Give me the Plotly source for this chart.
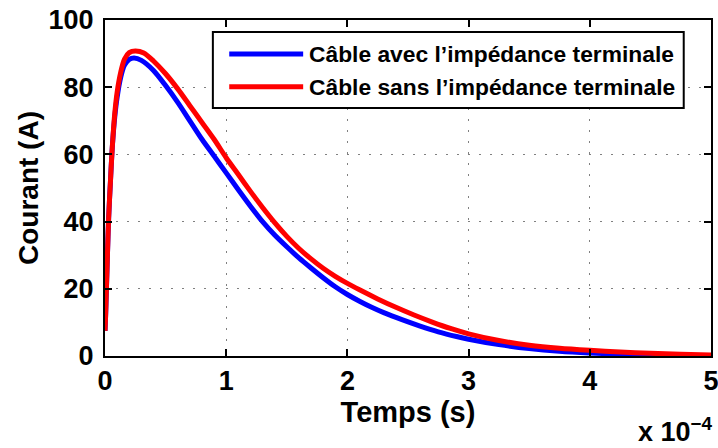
import plotly.graph_objects as go

# Time in units of 1e-4 s (axis shows "x 10^-4")
t_blue = [0, 0.005, 0.01, 0.02, 0.03, 0.045, 0.06, 0.08, 0.1, 0.13, 0.16, 0.2, 0.24, 0.3, 0.4,
          0.5, 0.6, 0.7, 0.8, 0.9, 1.0, 1.1, 1.2, 1.3, 1.4, 1.5, 1.6, 1.7, 1.8, 1.9, 2.0, 2.1,
          2.2, 2.3, 2.45, 2.6, 2.75, 2.9, 3.0, 3.25, 3.5, 3.75, 4.0, 4.25, 4.5, 4.75, 5.0]
i_blue = [7.5, 12, 18, 30, 41, 52, 62, 71, 77, 83, 86.5, 88.3, 88.7, 88, 85,
          80.5, 75.5, 70, 64.5, 59.5, 54.5, 49.5, 44.6, 40, 36, 32.5, 29.2, 26.2, 23.3, 20.6, 18.3, 16.3,
          14.5, 12.9, 10.8, 8.9, 7.2, 5.8, 5.0, 3.4, 2.2, 1.4, 0.9, 0.55, 0.3, 0.15, 0.1]

t_red = [0, 0.005, 0.01, 0.02, 0.03, 0.045, 0.06, 0.08, 0.1, 0.13, 0.16, 0.2, 0.25, 0.32, 0.4,
         0.5, 0.6, 0.7, 0.8, 0.9, 1.0, 1.1, 1.2, 1.3, 1.4, 1.5, 1.6, 1.7, 1.8, 1.9, 2.0, 2.1,
         2.25, 2.4, 2.55, 2.7, 2.85, 3.0, 3.25, 3.5, 3.75, 4.0, 4.25, 4.5, 4.75, 5.0]
i_red = [7.5, 12, 18, 30, 41, 52, 62, 72, 78.5, 84.5, 88.3, 90.3, 90.8, 90.2, 87.8,
         84, 79.5, 74.5, 69.5, 64.5, 59, 54, 49, 44.2, 39.7, 35.6, 32.0, 28.9, 26.1, 23.7, 21.6, 19.7,
         17.0, 14.5, 12.2, 10.1, 8.2, 6.6, 4.6, 3.2, 2.3, 1.7, 1.2, 0.8, 0.5, 0.3]

legend_names = ["Câble avec l’impédance terminale", "Câble sans l’impédance terminale"]
colors = ["#0000FF", "#FF0000"]

x_ticks = [0, 1, 2, 3, 4, 5]
y_ticks = [0, 20, 40, 60, 80, 100]

FONT = "Liberation Sans, Arial, sans-serif"

fig = go.Figure()
fig.add_trace(go.Scatter(x=t_blue, y=i_blue, mode="lines", name=legend_names[0],
                         line=dict(color=colors[0], width=5, shape="spline", smoothing=0.8),
                         showlegend=False))
fig.add_trace(go.Scatter(x=t_red, y=i_red, mode="lines", name=legend_names[1],
                         line=dict(color=colors[1], width=5, shape="spline", smoothing=0.8),
                         showlegend=False))

axis_common = dict(
    showline=True, linecolor="black", linewidth=2, mirror="ticks",
    ticks="inside", ticklen=7, tickwidth=2, tickcolor="black",
    showgrid=True, gridcolor="#808080", gridwidth=1, griddash="2px,9px",
    zeroline=False, automargin=False, ticklabeloverflow="allow",
    tickfont=dict(family=FONT, size=27, color="black", weight="bold"),
)

fig.update_xaxes(range=[0, 5], tickvals=x_ticks, ticktext=[str(v) for v in x_ticks],
                 title=dict(text="Temps (s)", font=dict(family=FONT, size=29, color="black", weight="bold"),
                            standoff=4),
                 **axis_common)
fig.update_yaxes(range=[0, 100], tickvals=y_ticks, ticktext=[str(v) for v in y_ticks],
                 ticklabelstandoff=4,
                 title=dict(text="Courant (A)", font=dict(family=FONT, size=28, color="black", weight="bold"),
                            standoff=2),
                 **axis_common)

# Legend box drawn manually (MATLAB-style long line samples)
shapes = [dict(type="rect", xref="paper", yref="paper", x0=0.178, x1=0.955, y0=0.738, y1=0.964,
               line=dict(color="black", width=2), fillcolor="white", layer="above")]
annotations = []
rows_y = [0.899, 0.801]
for name, col, yy in zip(legend_names, colors, rows_y):
    shapes.append(dict(type="line", xref="paper", yref="paper", x0=0.205, x1=0.327, y0=yy, y1=yy,
                       line=dict(color=col, width=5), layer="above"))
    annotations.append(dict(text=name, xref="paper", yref="paper", x=0.334, y=yy,
                            xanchor="left", yanchor="middle", showarrow=False,
                            font=dict(family=FONT, size=22.8, color="black", weight="bold")))

annotations.append(dict(text="x 10<sup>−4</sup>", xref="paper", yref="paper", x=1, y=-0.163,
                        xanchor="right", yanchor="top", xshift=4, showarrow=False,
                        font=dict(family=FONT, size=27, color="black", weight="bold")))

fig.update_layout(
    width=718, height=448,
    margin=dict(l=105, r=7, t=20, b=92),
    paper_bgcolor="white", plot_bgcolor="white",
    shapes=shapes, annotations=annotations,
    font=dict(family=FONT, color="black"),
)

fig.write_html("out.html", config={"displayModeBar": False},
               post_script="document.body.style.margin='0px';document.body.style.overflow='hidden';")
